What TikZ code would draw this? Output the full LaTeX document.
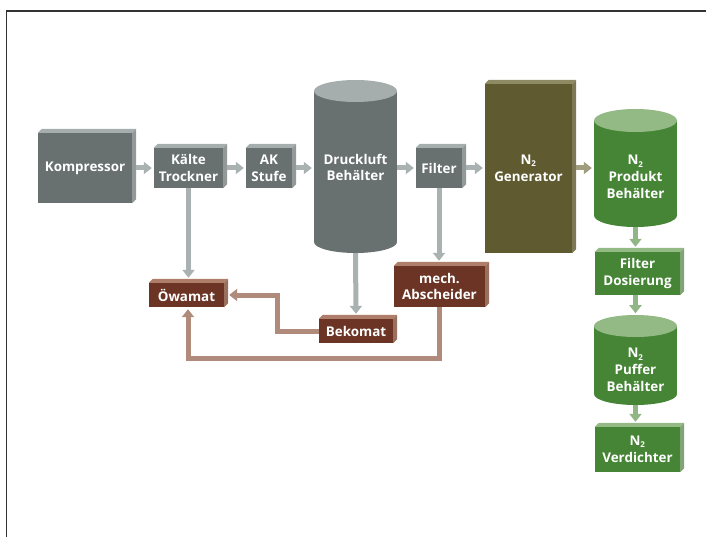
\documentclass[tikz,border=0pt]{standalone}
\usepackage{fontspec}
\setmainfont{Open Sans}
\usetikzlibrary{arrows.meta,calc}
\definecolor{gface}{HTML}{687170}
\definecolor{gtop}{HTML}{A6AEAD}
\definecolor{garrowc}{HTML}{A9B1B1}
\definecolor{oface}{HTML}{5F5A30}
\definecolor{otop}{HTML}{8E8A63}
\definecolor{bface}{HTML}{6B3424}
\definecolor{btop}{HTML}{AE7E6B}
\definecolor{barrowc}{HTML}{B08A7A}
\definecolor{grface}{HTML}{458535}
\definecolor{grtop}{HTML}{93B985}
\definecolor{grarrowc}{HTML}{8FB684}
\definecolor{tarrowc}{HTML}{A29C7E}
\newcommand\subtwo{\textsubscript{\fontsize{8}{8}\selectfont 2}}
\tikzset{
  boxtext/.style={text=white, font=\bfseries\fontsize{13.4}{16.8}\selectfont, align=center, inner sep=0pt},
  blockbox/.style={boxtext, fill=#1, draw=none},
  cylbox/.style={draw=none, inner sep=0pt},
  arr/.style={draw=#1, line width=5pt, -{Triangle[width=12pt,length=8pt]}},
}
\begin{document}
\begin{tikzpicture}[x=1pt,y=-1pt]
\useasboundingbox (0,0) rectangle (706,537);
\draw[line width=1.2pt, color=black!80] (6.5,537) -- (6.5,11) -- (706,11);

% cylinders (shapes)
\fill[gface] (314,91) rectangle (397,242);
\fill[gface] (355.5,242) ellipse[x radius=41.5, y radius=11];
\fill[gtop] (355.5,91) ellipse[x radius=41.5, y radius=11];
\fill[grface] (594,120.5) rectangle (677,215.5);
\fill[grface] (635.5,215.5) ellipse[x radius=41.5, y radius=11.5];
\fill[grtop] (635.5,120.5) ellipse[x radius=41.5, y radius=11.5];
\fill[grface] (594,326) rectangle (677,394);
\fill[grface] (635.5,394) ellipse[x radius=41.5, y radius=11];
\fill[grtop] (635.5,326) ellipse[x radius=41.5, y radius=11];

\node[cylbox, minimum width=83pt, minimum height=173pt] (dr) at (355.5,166.5) {};
\node[boxtext] (drt) at (355.5,167.5) {Druckluft\\Behälter};
\node[cylbox, minimum width=83pt, minimum height=118pt] (prod) at (635.5,168) {};
\node[boxtext] (prodt) at (635.5,177) {N\subtwo\\Produkt\\Behälter};
\node[cylbox, minimum width=83pt, minimum height=90pt] (puf) at (635.5,360) {};
\node[boxtext] (puft) at (635.5,370) {N\subtwo\\Puffer\\Behälter};

% blocks
\node[blockbox=gface, minimum width=94pt, minimum height=70pt] (komp) at (85,168) {Kompressor};
\node[blockbox=gface, minimum width=69pt, minimum height=40pt] (kalte) at (188.5,168) {Kälte\\Trockner};
\node[blockbox=gface, minimum width=46pt, minimum height=40pt] (ak) at (269,168) {AK\\Stufe};
\node[blockbox=gface, minimum width=46pt, minimum height=40pt] (filter) at (439,168) {Filter};
\node[blockbox=oface, minimum width=87pt, minimum height=169pt] (gen) at (528.5,168.5) {N\subtwo\\Generator};
\node[blockbox=bface, minimum width=75pt, minimum height=24pt] (owa) at (186.5,295) {Öwamat};
\node[blockbox=bface, minimum width=74pt, minimum height=24pt] (bek) at (356,331) {Bekomat};
\node[blockbox=bface, minimum width=91pt, minimum height=41pt] (mech) at (439.5,286.5) {mech.\\Abscheider};
\node[blockbox=grface, minimum width=85pt, minimum height=43pt] (dos) at (637.5,273.5) {Filter\\Dosierung};
\node[blockbox=grface, minimum width=85pt, minimum height=45pt] (verd) at (637.5,449.5) {N\subtwo\\Verdichter};

\foreach \n/\c in {komp/gtop,kalte/gtop,ak/gtop,filter/gtop,gen/otop,owa/btop,bek/btop,mech/btop,dos/grtop,verd/grtop}{
  \fill[\c] (\n.north west) -- ++(4,-4) -- ($(\n.north east)+(4,-4)$) -- (\n.north east) -- cycle;
  \fill[\c!88!black] (\n.north east) -- ++(4,-4) -- ($(\n.south east)+(4,-4)$) -- (\n.south east) -- cycle;
}

% connectors
\draw[arr=garrowc] ($(komp.east)+(4,0)$) -- ($(kalte.west)+(-2,0)$);
\draw[arr=garrowc] ($(kalte.east)+(4,0)$) -- ($(ak.west)+(-2,0)$);
\draw[arr=garrowc] ($(ak.east)+(4,0)$) -- ($(ak.east -| dr.west)+(-2,0)$);
\draw[arr=garrowc] (filter.west -| dr.east) -- ($(filter.west)+(-2,0)$);
\draw[arr=garrowc] ($(filter.east)+(4,0)$) -- ($(filter.east -| gen.west)+(-2,0)$);
\draw[arr=tarrowc] ($(filter.east -| gen.east)+(4,0)$) -- ($(filter.east -| prod.west)+(-2,0)$);
\draw[arr=garrowc] (kalte.south) -- ($(kalte.south |- owa.north)+(0,-5)$);
\draw[arr=garrowc] (dr.south) -- ($(bek.north)+(0,-5)$);
\draw[arr=garrowc] (filter.south) -- ($(filter.south |- mech.north)+(0,-5)$);
\draw[arr=barrowc] (bek.west) -- ++(-41,0) |- ($(owa.east)+(5,0)$);
\draw[arr=barrowc] (mech.south) -- ++(0,51) -| ($(owa.south)+(1.5,2)$);
\draw[arr=grarrowc] (prod.south) -- ($(prod.south |- dos.north)+(0,-5)$);
\draw[arr=grarrowc] (dos.south -| puf.south) -- ++(0,18);
\draw[arr=grarrowc] (puf.south) -- ($(puf.south |- verd.north)+(0,-5)$);
\end{tikzpicture}
\end{document}
